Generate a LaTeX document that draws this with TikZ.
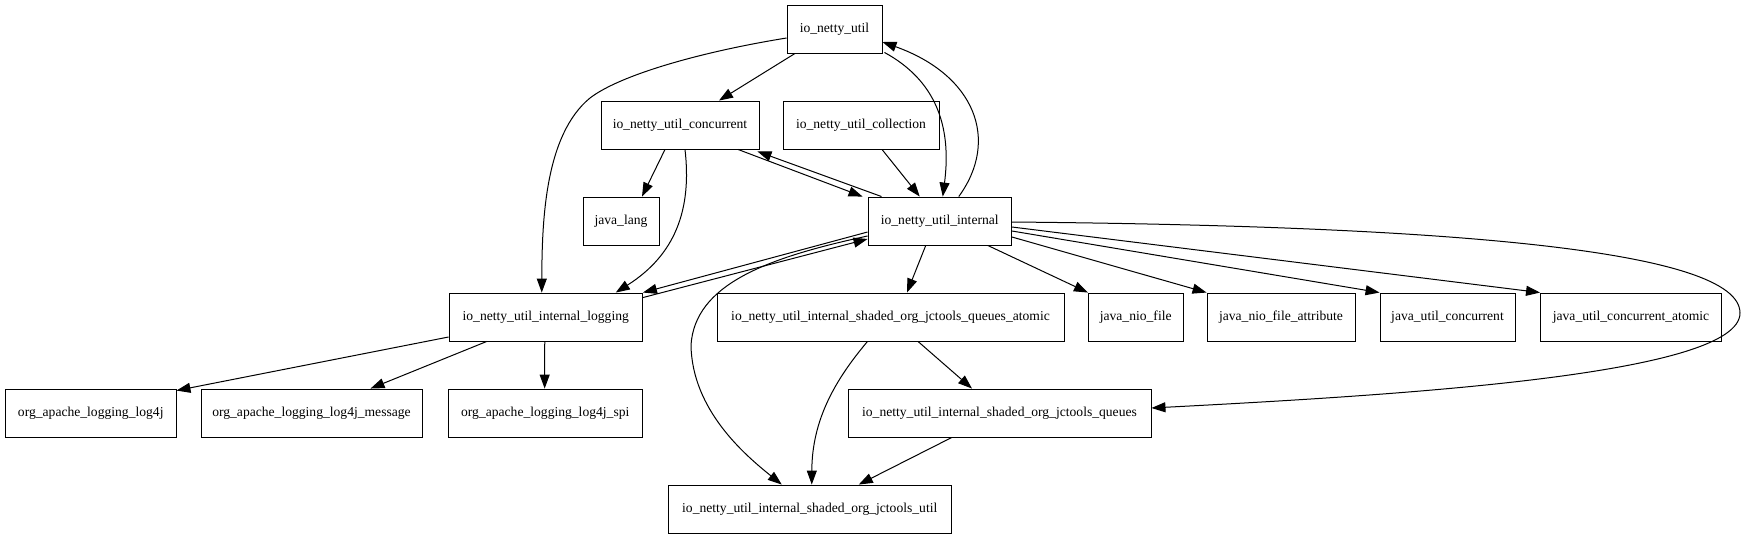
\documentclass[tikz,border=0pt]{standalone}
\usepackage{fontspec}
\setmainfont{Liberation Serif}
\usetikzlibrary{arrows.meta}
\begin{document}
\begin{tikzpicture}[x=1pt,y=-1pt,
  pkg/.style={draw, line width=0.9pt, rectangle, inner sep=0pt, minimum height=48pt,
    font=\fontsize{13.6}{15}\selectfont},
  dep/.style={line width=1pt, -{Triangle[length=14pt,width=10pt]}}]
\useasboundingbox (0,0) rectangle (1749,539);
\fill[white] (0,0) rectangle (1749,539);
% nodes
\node[pkg, minimum width=95pt] (util) at (834.5,29) {io\_netty\_util};
\node[pkg, minimum width=158pt] (conc) at (680,125) {io\_netty\_util\_concurrent};
\node[pkg, minimum width=156pt] (coll) at (861,125) {io\_netty\_util\_collection};
\node[pkg, minimum width=76pt] (jlang) at (621,221) {java\_lang};
\node[pkg, minimum width=143.5pt] (internal) at (939.75,221) {io\_netty\_util\_internal};
\node[pkg, minimum width=193.5pt] (logging) at (545.75,317) {io\_netty\_util\_internal\_logging};
\node[pkg, minimum width=347pt] (atomic) at (890.5,317) {io\_netty\_util\_internal\_shaded\_org\_jctools\_queues\_atomic};
\node[pkg, minimum width=94.6pt] (niofile) at (1135.7,317) {java\_nio\_file};
\node[pkg, minimum width=148pt] (attr) at (1281,317) {java\_nio\_file\_attribute};
\node[pkg, minimum width=135pt] (juc) at (1447.5,317) {java\_util\_concurrent};
\node[pkg, minimum width=181pt] (jucatomic) at (1631,317) {java\_util\_concurrent\_atomic};
\node[pkg, minimum width=170.5pt] (log4j) at (90.75,413) {org\_apache\_logging\_log4j};
\node[pkg, minimum width=221pt] (message) at (311.5,413) {org\_apache\_logging\_log4j\_message};
\node[pkg, minimum width=194.5pt] (spi) at (545.25,413) {org\_apache\_logging\_log4j\_spi};
\node[pkg, minimum width=303pt] (queues) at (999.5,413) {io\_netty\_util\_internal\_shaded\_org\_jctools\_queues};
\node[pkg, minimum width=283.5pt] (jutil) at (809.75,509) {io\_netty\_util\_internal\_shaded\_org\_jctools\_util};
% edges
\draw[dep] ([xshift=-39.5pt]util.south) -- ([xshift=39pt]conc.north);
\draw[dep] ([yshift=-9pt]util.west) .. controls (700,52) and (620,75) .. (590,98)
  .. controls (545,135) and (542,220) .. ([xshift=-4pt]logging.north);
\draw[dep] ([xshift=2pt,yshift=1pt]util.south east) .. controls (935,80) and (952,125) .. ([xshift=3pt]internal.north);
\draw[dep] ([xshift=19pt]internal.north) .. controls (1000,140) and (975,75) .. ([yshift=-13pt]util.east);
\draw[dep] ([xshift=-15pt]conc.south) -- ([xshift=21pt]jlang.north);
\draw[dep] ([xshift=5pt]conc.south) .. controls (692,210) and (675,255) .. ([xshift=70pt]logging.north);
\draw[dep] ([xshift=58pt]conc.south) -- ([xshift=-5pt]internal.north west);
\draw[dep] ([xshift=14pt]internal.north west) -- ([xshift=-2pt,yshift=-2pt]conc.south east);
\draw[dep] ([xshift=21pt]coll.south) -- ([xshift=-20pt]internal.north);
\draw[dep] ([yshift=-11pt]internal.west) -- (logging.north east);
\draw[dep] ([yshift=-5pt]logging.north east) -- ([yshift=-18pt]internal.west);
\draw[dep] ([yshift=-15pt]internal.west) .. controls (765,258) and (695,285) .. (691,345)
  .. controls (692,410) and (745,455) .. ([xshift=-28pt]jutil.north);
\draw[dep] ([xshift=-14pt]internal.south) -- ([xshift=16.5pt]atomic.north);
\draw[dep] ([xshift=48pt]internal.south) -- (niofile.north west);
\draw[dep] ([yshift=-16pt]internal.east) -- (attr.north west);
\draw[dep] ([yshift=-10pt]internal.east) -- (juc.north west);
\draw[dep] ([yshift=-6pt]internal.east) -- (jucatomic.north west);
\draw[dep] ([yshift=-1pt]internal.east) .. controls (1450,226) and (1740,250) .. (1740,313)
  .. controls (1740,375) and (1400,395) .. ([yshift=5pt]queues.east);
\draw[dep] ([xshift=27.5pt]atomic.south) -- ([xshift=-27.5pt]queues.north);
\draw[dep] ([xshift=-23pt]atomic.south) .. controls (835,380) and (812,420) .. ([xshift=2pt]jutil.north);
\draw[dep] ([xshift=-47.7pt]queues.south) -- ([xshift=49pt]jutil.north);
\draw[dep] ([yshift=-20pt]logging.west) -- ([yshift=-2pt]log4j.north east);
\draw[dep] ([xshift=-59pt]logging.south) -- ([xshift=59pt]message.north);
\draw[dep] ([xshift=-1pt]logging.south) -- ([xshift=-0.6pt]spi.north);
\end{tikzpicture}
\end{document}
